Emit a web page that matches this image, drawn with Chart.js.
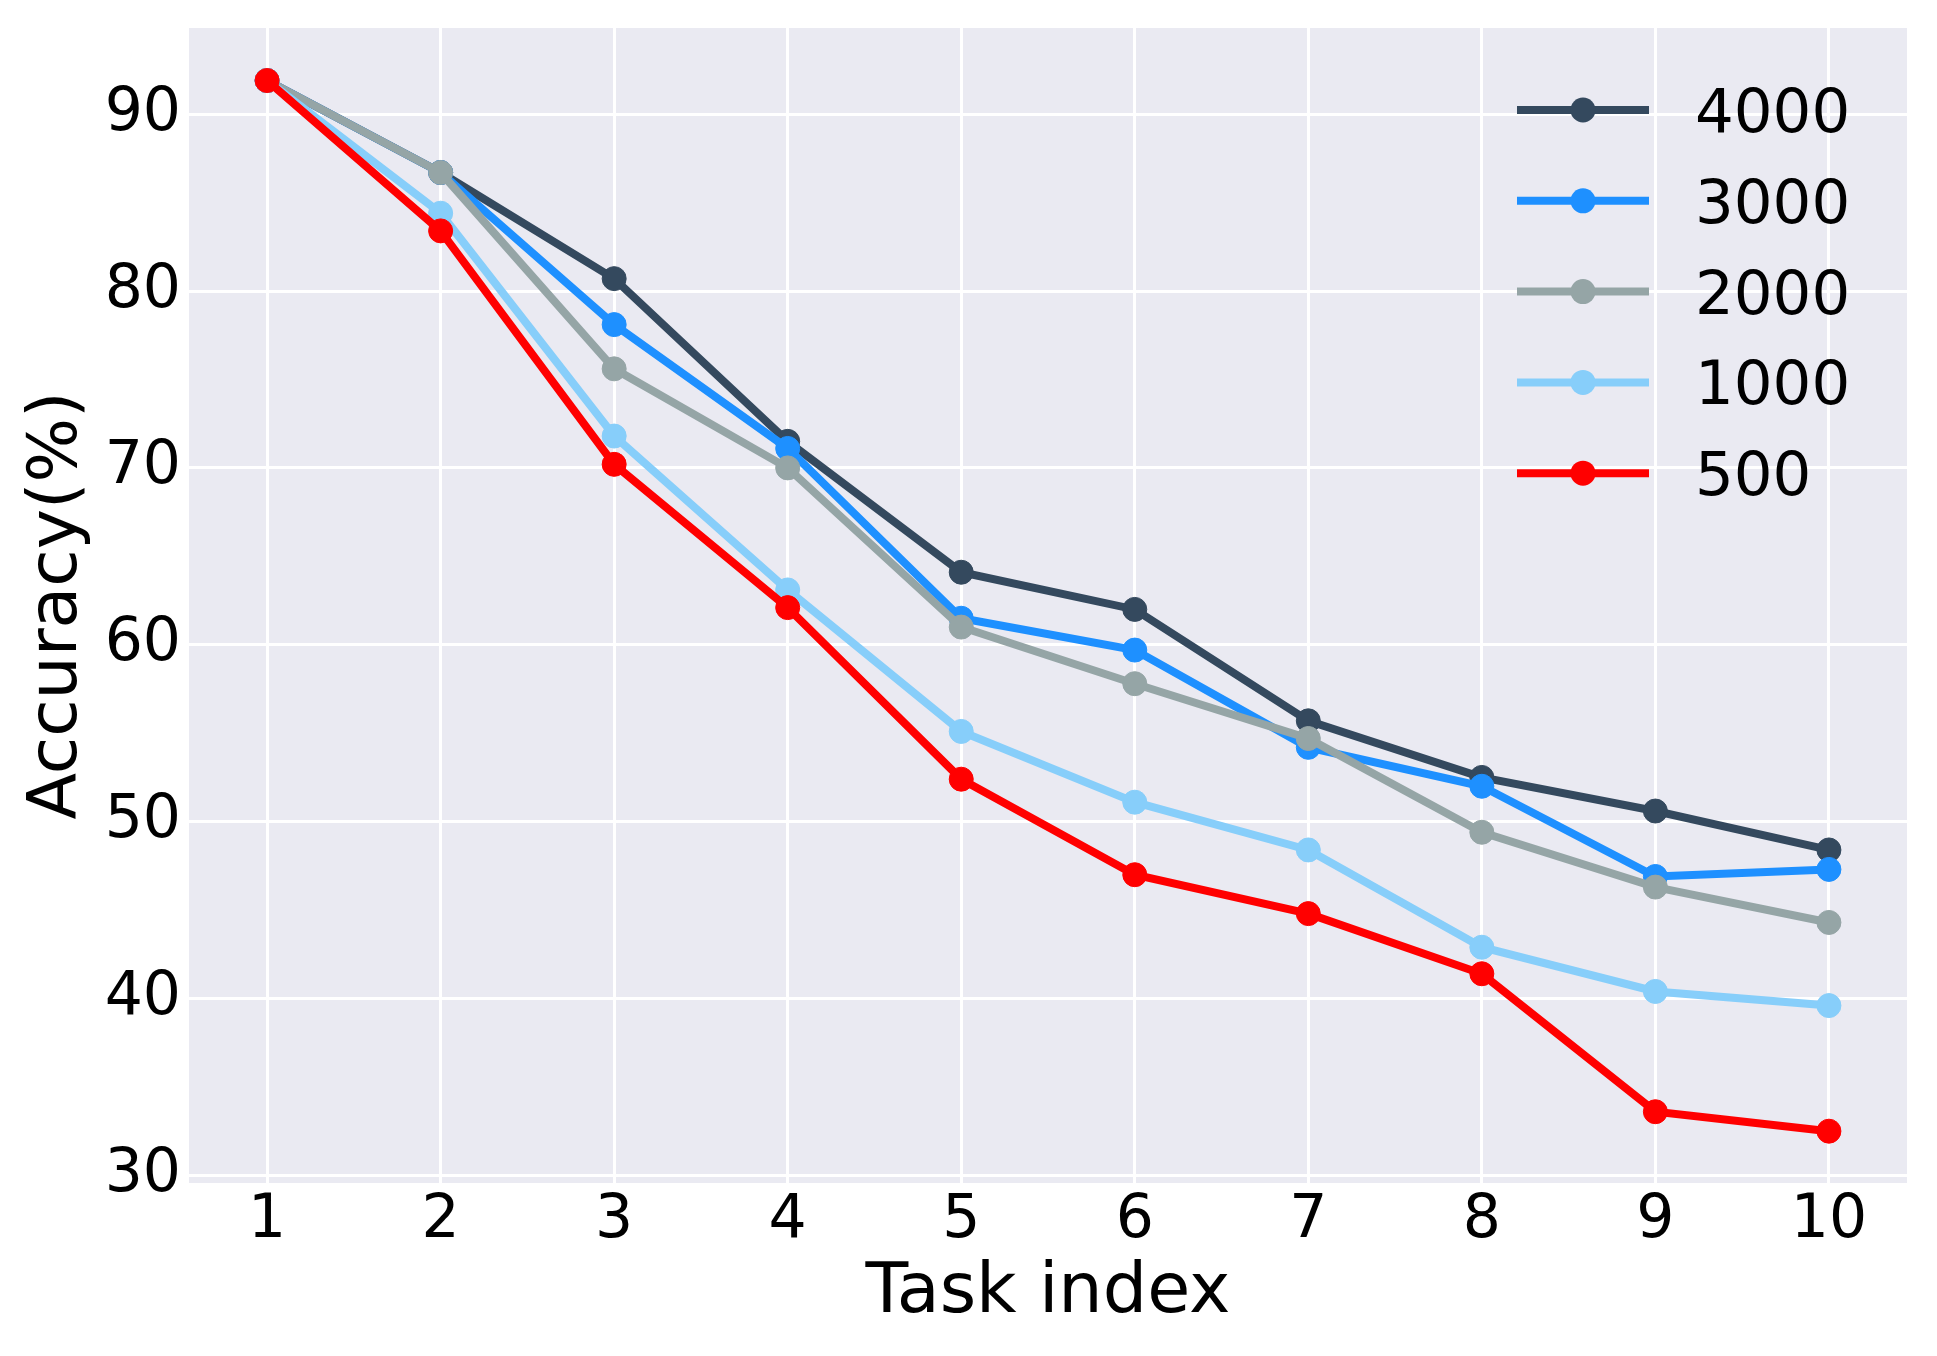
<!DOCTYPE html>
<html>
<head>
<meta charset="utf-8">
<script src="https://cdn.jsdelivr.net/npm/chart.js@4.4.0/dist/chart.umd.min.js"></script>
<style>body{margin:0;background:#fff}</style>
</head>
<body>
<canvas id="c" width="1937" height="1356"></canvas>
<script>
const tasks = [1, 2, 3, 4, 5, 6, 7, 8, 9, 10];
const acc4000 = [91.9, 86.7, 80.7, 71.5, 64.1, 62.0, 55.7, 52.5, 50.6, 48.4];
const acc3000 = [91.9, 86.7, 78.1, 71.1, 61.5, 59.7, 54.2, 52.0, 46.9, 47.3];
const acc2000 = [91.9, 86.7, 75.6, 70.0, 61.0, 57.8, 54.7, 49.4, 46.3, 44.3];
const acc1000 = [91.9, 84.4, 71.8, 63.1, 55.1, 51.1, 48.4, 42.9, 40.4, 39.6];
const acc500 = [91.9, 83.4, 70.2, 62.1, 52.4, 47.0, 44.8, 41.4, 33.6, 32.5];
const seriesNames = ['4000', '3000', '2000', '1000', '500'];
const seriesColors = ['#34495e', '#1e90ff', '#95a5a6', '#87cefa', '#ff0000'];
const yTicks = [30, 40, 50, 60, 70, 80, 90];

const allSeries = [acc4000, acc3000, acc2000, acc1000, acc500];
const FONT = 'DejaVu Sans';

const datasets = allSeries.map((vals, i) => ({
  label: seriesNames[i],
  data: tasks.map((t, k) => ({x: t, y: vals[k]})),
  borderColor: seriesColors[i],
  backgroundColor: seriesColors[i],
  pointBackgroundColor: seriesColors[i],
  pointBorderColor: seriesColors[i],
  borderWidth: 8,
  pointRadius: 12,
  pointBorderWidth: 1,
  tension: 0,
  order: allSeries.length - i   // later series drawn on top, like matplotlib
}));

// plot background, seaborn style
const bgPlugin = {
  id: 'bg',
  beforeDraw(chart) {
    const a = chart.chartArea, ctx = chart.ctx;
    ctx.save();
    ctx.fillStyle = '#eaeaf2';
    ctx.fillRect(a.left, a.top, a.right - a.left, a.bottom - a.top);
    ctx.restore();
  }
};

// legend with line + marker like matplotlib, drawn inside the plot
const legendPlugin = {
  id: 'mplLegend',
  afterDatasetsDraw(chart) {
    const ctx = chart.ctx;
    ctx.save();
    chart.data.datasets.forEach((ds, i) => {
      const y = 110 + i * 90.8;
      ctx.strokeStyle = ds.borderColor;
      ctx.lineWidth = ds.borderWidth;
      ctx.beginPath();
      ctx.moveTo(1517, y);
      ctx.lineTo(1649, y);
      ctx.stroke();
      ctx.fillStyle = ds.borderColor;
      ctx.beginPath();
      ctx.arc(1583, y, ds.pointRadius + 0.5, 0, Math.PI * 2);
      ctx.fill();
      ctx.fillStyle = '#000';
      ctx.font = '61px "' + FONT + '"';
      ctx.textBaseline = 'alphabetic';
      ctx.textAlign = 'left';
      ctx.fillText(ds.label, 1695, y + 22);
    });
    ctx.restore();
  }
};

new Chart(document.getElementById('c'), {
  type: 'line',
  data: {datasets},
  plugins: [bgPlugin, legendPlugin],
  options: {
    responsive: false,
    animation: false,
    layout: {padding: {top: 28, right: 30, left: 0, bottom: 0}},
    plugins: {legend: {display: false}, tooltip: {enabled: false}},
    scales: {
      x: {
        type: 'linear',
        min: 0.55,
        max: 10.45,
        afterBuildTicks: s => { s.ticks = tasks.map(v => ({value: v})); },
        afterFit: s => { s.height = 173; s.paddingLeft = 0; s.paddingRight = 0; },
        grid: {color: '#ffffff', lineWidth: 3, drawTicks: false},
        border: {display: false},
        ticks: {color: '#000', padding: 8, font: {family: FONT, size: 60, lineHeight: 1}},
        title: {display: true, text: 'Task index', color: '#000',
          font: {family: FONT, size: 70}, padding: {bottom: 20}}
      },
      y: {
        min: 29.57,
        max: 94.87,
        afterBuildTicks: s => { s.ticks = yTicks.map(v => ({value: v})); },
        afterFit: s => { s.width = 189; s.paddingTop = 0; s.paddingBottom = 0; },
        grid: {color: '#ffffff', lineWidth: 3, drawTicks: false},
        border: {display: false},
        ticks: {color: '#000', padding: 8, font: {family: FONT, size: 60, lineHeight: 1}},
        title: {display: true, text: 'Accuracy(%)', color: '#000',
          font: {family: FONT, size: 68}, padding: {top: 18}}
      }
    }
  }
});
</script>
</body>
</html>
